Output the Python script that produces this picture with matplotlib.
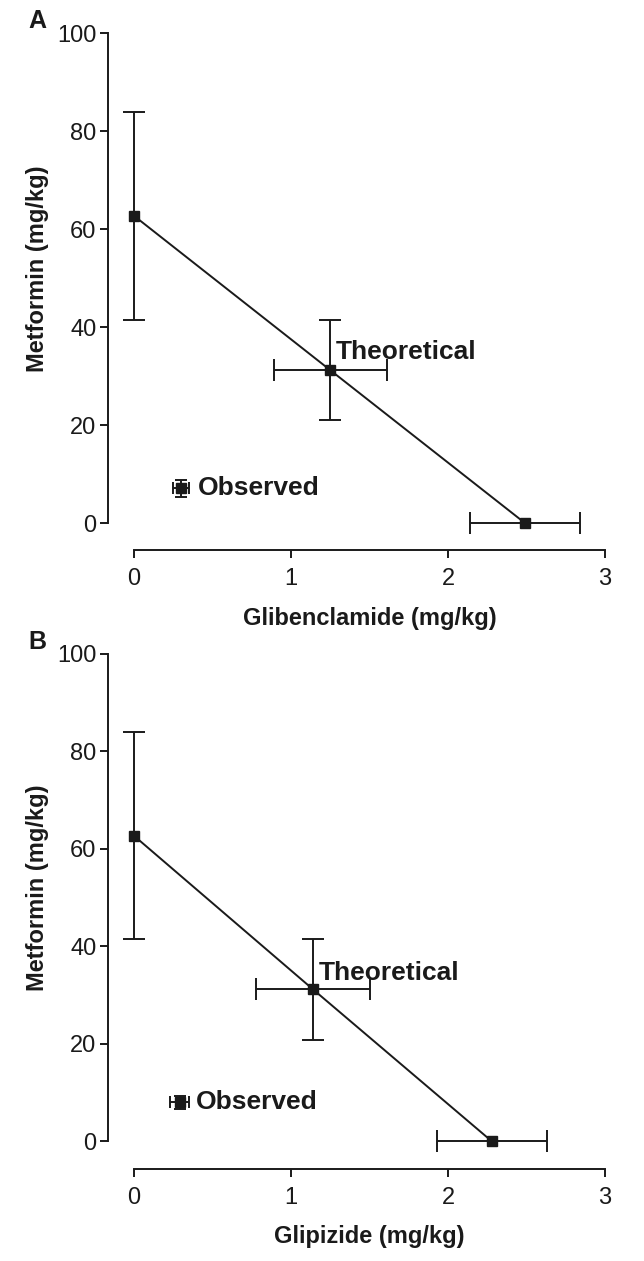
import matplotlib
matplotlib.use('Agg')
import matplotlib.pyplot as plt

plt.rcParams['font.family'] = ['Liberation Sans', 'DejaVu Sans']

# panel A: glibenclamide + metformin
gliben_x = [0.0, 1.25, 2.49]
gliben_xerr = [0.0, 0.36, 0.35]
metA_y = [62.7, 31.2, 0.0]
metA_yerr = [21.2, 10.2, 0.0]
obsA_x, obsA_xerr = 0.30, 0.05
obsA_y, obsA_yerr = 7.1, 1.7

# panel B: glipizide + metformin
glipi_x = [0.0, 1.14, 2.28]
glipi_xerr = [0.0, 0.36, 0.35]
metB_y = [62.7, 31.2, 0.0]
metB_yerr = [21.2, 10.3, 0.0]
obsB_x, obsB_xerr = 0.29, 0.06
obsB_y, obsB_yerr = 8.0, 1.4

xticks = [0, 1, 2, 3]
yticks = [0, 20, 40, 60, 80, 100]
xlabels = ['Glibenclamide (mg/kg)', 'Glipizide (mg/kg)']
panels = ['A', 'B']

INK = '#1a1a1a'
LW = 1.4

fig = plt.figure(figsize=(6.44, 12.61), dpi=100)
axA = fig.add_axes([0.2081, 0.5852, 0.7314, 0.3886])
axB = fig.add_axes([0.2081, 0.0948, 0.7314, 0.3866])

def draw(ax, x, xerr, y, yerr, ox, oxerr, oy, oyerr, xlabel, letter, th_dy):
    # theoretical isobole
    ax.plot(x, y, color=INK, lw=LW, clip_on=False, zorder=2)
    for xi, xe, yi, ye in zip(x, xerr, y, yerr):
        ax.errorbar(xi, yi, xerr=xe if xe else None, yerr=ye if ye else None,
                    fmt='s', ms=6.5, color=INK, ecolor=INK, elinewidth=LW,
                    capsize=8, capthick=LW, clip_on=False, zorder=3)
    # observed
    ax.errorbar(ox, oy, xerr=oxerr, yerr=oyerr, fmt='s', ms=6.5, color=INK,
                ecolor=INK, elinewidth=LW, capsize=4, capthick=LW,
                clip_on=False, zorder=3)
    ax.annotate('Theoretical', (x[1], y[1]), xytext=(4, th_dy),
                textcoords='offset points', fontsize=19, fontweight='bold',
                color=INK, va='center', ha='left')
    ax.annotate('Observed', (ox, oy), xytext=(12, 0),
                textcoords='offset points', fontsize=19, fontweight='bold',
                color=INK, va='center', ha='left')

    ax.set_xlim(0, 3)
    ax.set_ylim(0, 100)
    ax.set_xticks(xticks)
    ax.set_yticks(yticks)
    for s in ['top', 'right']:
        ax.spines[s].set_visible(False)
    ax.spines['left'].set_position(('outward', 19))
    ax.spines['bottom'].set_position(('outward', 19.5))
    for s in ['left', 'bottom']:
        ax.spines[s].set_linewidth(LW)
        ax.spines[s].set_color(INK)
    ax.tick_params(axis='both', direction='out', length=6, width=LW,
                   color=INK, labelcolor=INK, labelsize=17)
    ax.tick_params(axis='y', pad=2)
    ax.tick_params(axis='x', pad=7)
    ax.set_xlabel(xlabel, fontsize=17, fontweight='bold', color=INK, labelpad=12)
    ax.set_ylabel('Metformin (mg/kg)', fontsize=17, fontweight='bold', color=INK)
    ax.yaxis.set_label_coords(-0.18, 0.52)
    ax.text(-0.225, 1.0, letter, transform=ax.transAxes, fontsize=18,
            fontweight='bold', color=INK, ha='left', va='bottom')

draw(axA, gliben_x, gliben_xerr, metA_y, metA_yerr,
     obsA_x, obsA_xerr, obsA_y, obsA_yerr, xlabels[0], panels[0], 13)
draw(axB, glipi_x, glipi_xerr, metB_y, metB_yerr,
     obsB_x, obsB_xerr, obsB_y, obsB_yerr, xlabels[1], panels[1], 12)

fig.savefig('out.png', dpi=100)
